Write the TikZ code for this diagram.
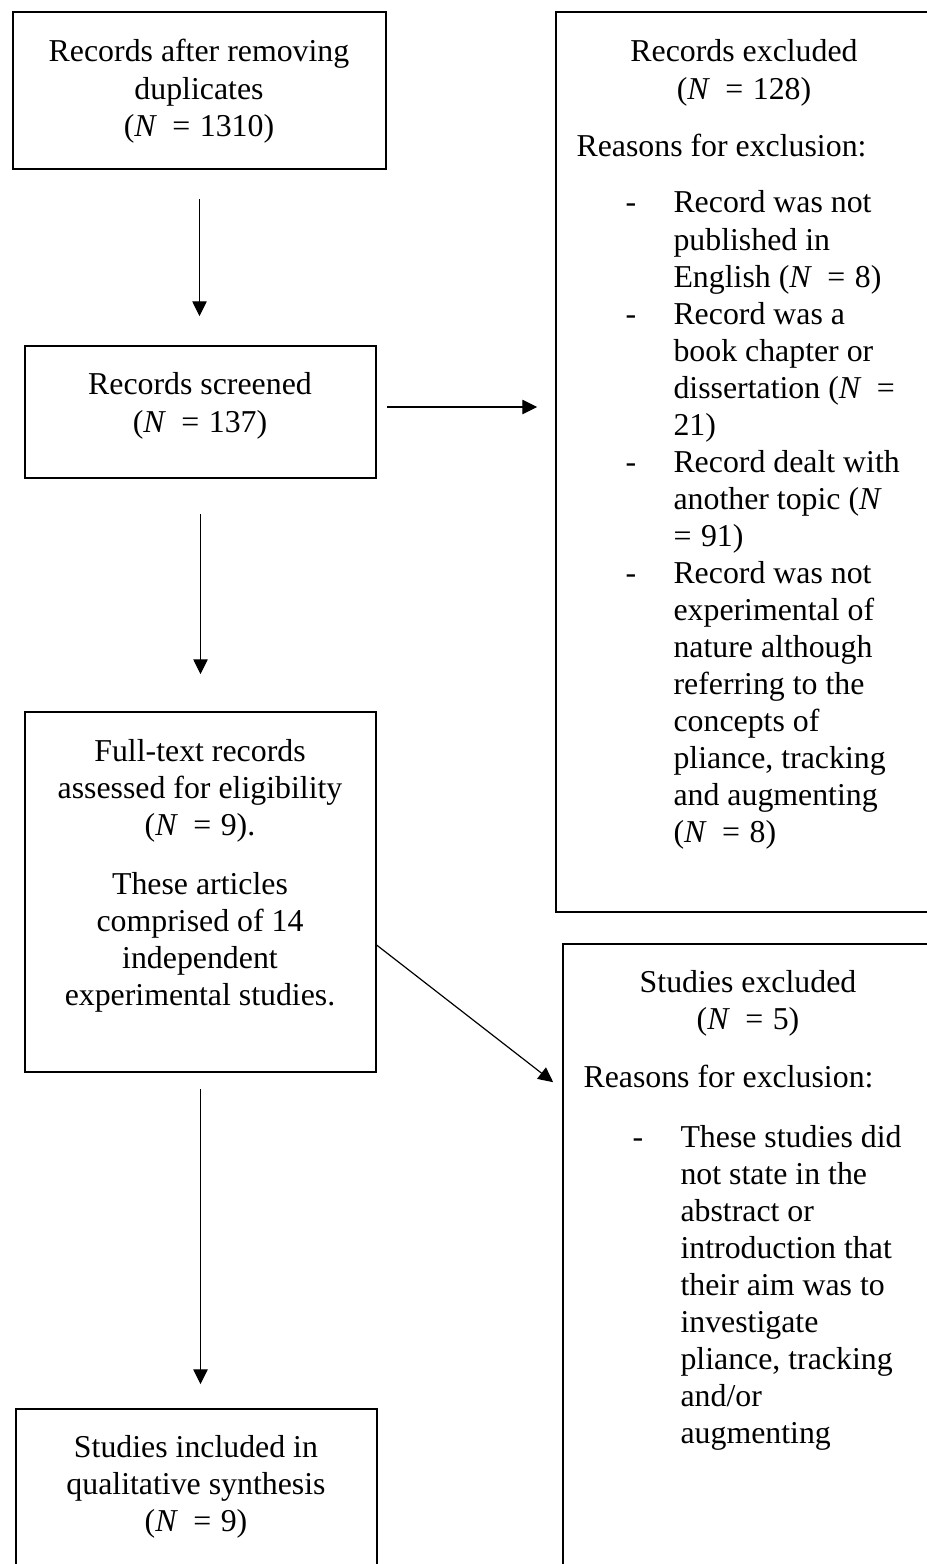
\documentclass[tikz,border=0pt]{standalone}
\usepackage{fontspec}
\setmainfont{Liberation Serif}
\usetikzlibrary{arrows.meta,fit,calc}
\newdimen\px \px=0.377pt
\newcommand{\nv}{\textit{N}\hspace{.48em}=\hspace{.3em}}
\newcommand{\stack}[2][c]{\begin{tabular}[t]{@{}#1@{}}#2\end{tabular}}
\begin{document}
\begin{tikzpicture}[x=0.377pt, y=-0.377pt, >={Triangle[length=5.6pt,width=5.4pt]},
        font=\fontsize{12}{13.97}\selectfont,
        frame/.style={draw, line width=.6pt, inner sep=0pt},
        txt/.style={anchor=base, inner sep=0pt},
        flow/.style={->, line width=.45pt}]
        \useasboundingbox (0,0) rectangle (927,1564);
        \clip (0,0) rectangle (927,1564);
        \node[frame, fit={(13,12) (386,169)}] (dup) {};
        \node[frame, fit={(25,346) (376,478)}] (screen) {};
        \node[frame, fit={(25,712) (376,1072)}] (full) {};
        \node[frame, fit={(16,1409) (377,1620)}] (incl) {};
        \node[frame, fit={(556,12) (990,912)}] (recx) {};
        \node[frame, fit={(563,944) (990,1620)}] (stdx) {};
        \node[txt] (duptxt) at (199,62) {\stack{Records after removing\\duplicates\\(\nv 1310)}};
        \node[txt] (screentxt) at (200,395) {\stack{Records screened\\(\nv 137)}};
        \node[txt] (fulltxt) at (200,761) {\stack{Full-text records\\assessed for eligibility\\(\nv 9).\\[8.3pt]These articles\\comprised of 14\\independent\\experimental studies.}};
        \node[txt] (incltxt) at (196,1457) {\stack{Studies included in\\qualitative synthesis\\(\nv 9)}};
        \node[txt] (recxhead) at (744,62) {\stack{Records excluded\\(\nv 128)}};
        \node[txt, anchor=base west] (recxwhy) at (576,157) {Reasons for exclusion:};
        \node[txt, anchor=base west] (recxlist) at (625,213) {\begin{tabular}[t]{@{}p{48\px}@{}l@{}}
                -&Record was not\\
                 &published in\\
                 &English (\nv 8)\\
                -&Record was a\\
                 &book chapter or\\
                 &dissertation (\textit{N}\hspace{.48em}=\\
                 &21)\\
                -&Record dealt with\\
                 &another topic (\textit{N}\\
                 &=\hspace{.3em}91)\\
                -&Record was not\\
                 &experimental of\\
                 &nature although\\
                 &referring to the\\
                 &concepts of\\
                 &pliance, tracking\\
                 &and augmenting\\
                 &(\nv 8)
        \end{tabular}};
        \node[txt] (stdxhead) at (748,992) {\stack{Studies excluded\\(\nv 5)}};
        \node[txt, anchor=base west] (stdxwhy) at (583,1087) {Reasons for exclusion:};
        \node[txt, anchor=base west] (stdxlist) at (632,1147) {\begin{tabular}[t]{@{}p{48\px}@{}l@{}}
                -&These studies did\\
                 &not state in the\\
                 &abstract or\\
                 &introduction that\\
                 &their aim was to\\
                 &investigate\\
                 &pliance, tracking\\
                 &and/or\\
                 &augmenting
        \end{tabular}};
        \draw[flow, shorten <=29\px, shorten >=29\px] (dup.south) -- (dup.south |- screen.north);
        \draw[flow, shorten <=35\px, shorten >=37\px] (screen.south) -- (full.north);
        \draw[flow, shorten <=16\px, shorten >=24\px] (full.south) -- (full.south |- incl.north);
        \draw[flow, shorten <=10\px, shorten >=18\px] ($(screen.east)+(0,-5)$) -- ($(screen.east -| recx.west)+(0,-5)$);
        \draw[flow] ($(full.north east)!.647!(full.south east)$) -- ($(stdx.north west)+(-9,139)$);
\end{tikzpicture}
\end{document}
